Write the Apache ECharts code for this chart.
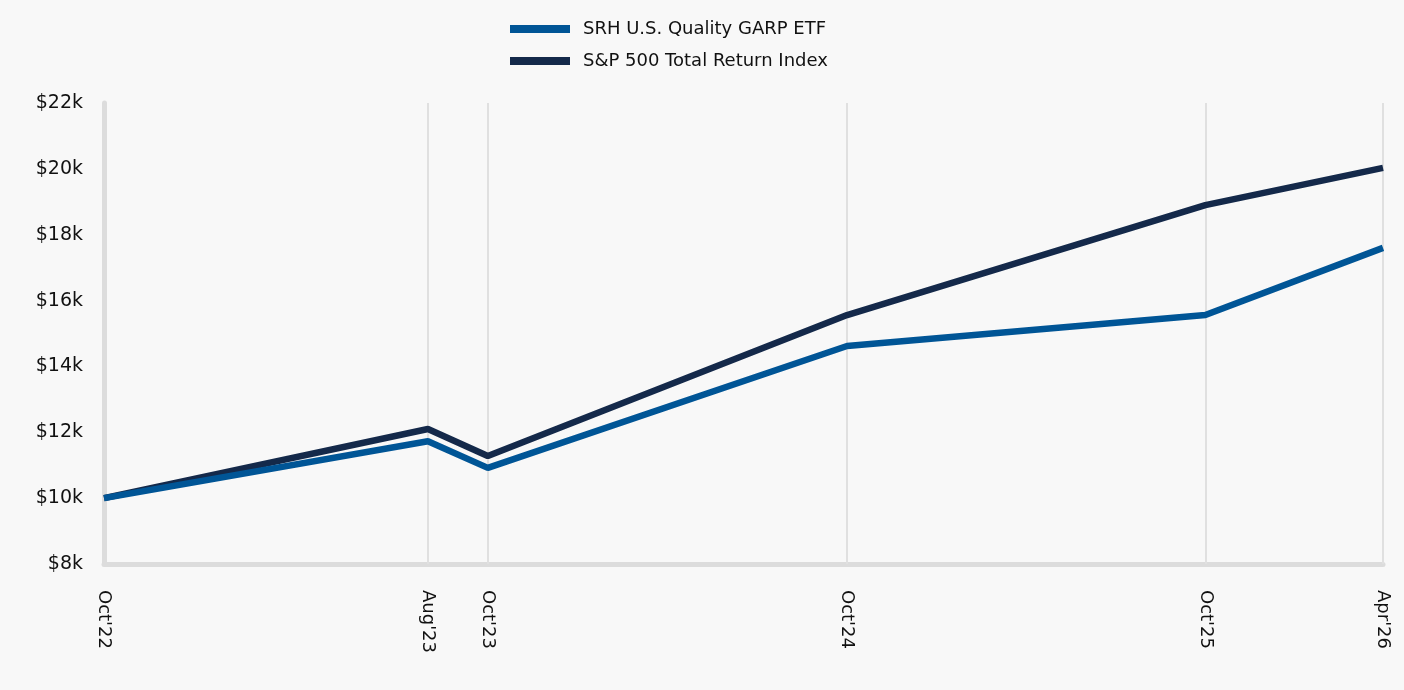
<!DOCTYPE html>
<html>
<head>
<meta charset="utf-8">
<script src="https://cdn.jsdelivr.net/npm/echarts@6/dist/echarts.min.js"></script>
<style>
  html, body { margin: 0; padding: 0; background: #f8f8f8; }
  #chart { width: 1404px; height: 690px; }
</style>
</head>
<body>
<div id="chart"></div>
<script>
// dates of the data points and their tick labels
const dates = ['2022-10-05', '2023-08-31', '2023-10-31', '2024-10-31', '2025-10-31', '2026-04-30'];
const tickLabels = ["Oct'22", "Aug'23", "Oct'23", "Oct'24", "Oct'25", "Apr'26"];
// growth of $10k
const srhValues = [10000, 11730, 10920, 14620, 15560, 17600];
const spxValues = [10000, 12100, 11280, 15560, 18900, 20030];

// days since first point, used as x position
const t0 = +new Date(dates[0] + 'T00:00:00Z');
const days = dates.map(d => Math.round((+new Date(d + 'T00:00:00Z') - t0) / 86400000));
const labelByDay = {};
days.forEach((d, i) => { labelByDay[d] = tickLabels[i]; });

const chart = echarts.init(document.getElementById('chart'));
const font = 'DejaVu Sans, sans-serif';

const option = {
  backgroundColor: '#f8f8f8',
  animation: false,
  textStyle: { fontFamily: font },
  legend: {
    orient: 'vertical',
    left: 505,
    top: 15,
    itemWidth: 60,
    itemHeight: 8,
    itemGap: 14,
    icon: 'rect',
    textStyle: { fontSize: 18, color: '#111', fontFamily: font, padding: [0, 0, 0, 8] },
    data: ['SRH U.S. Quality GARP ETF', 'S&P 500 Total Return Index']
  },
  grid: { left: 104, right: 21, top: 103, bottom: 126, containLabel: false },
  xAxis: {
    type: 'value',
    min: 0,
    max: days[days.length - 1],
    axisLine: { show: true, lineStyle: { color: '#dcdcdc', width: 5 } },
    axisTick: { show: false },
    splitLine: { show: false },
    axisLabel: {
      customValues: days,
      rotate: -90,
      margin: 26,
      fontSize: 18,
      color: '#111',
      fontFamily: font,
      formatter: v => labelByDay[v] || ''
    }
  },
  yAxis: {
    type: 'value',
    min: 8000,
    max: 22000,
    interval: 2000,
    axisLine: { show: true, lineStyle: { color: '#dcdcdc', width: 5 } },
    axisTick: { show: false },
    splitLine: { show: false },
    axisLabel: {
      fontSize: 19,
      color: '#111',
      margin: 21,
      fontFamily: font,
      formatter: v => '$' + (v / 1000) + 'k'
    }
  },
  series: [
    {
      name: 'SRH U.S. Quality GARP ETF',
      type: 'line',
      data: days.map((d, i) => [d, srhValues[i]]),
      color: '#005596',
      lineStyle: { width: 6.5, color: '#005596' },
      showSymbol: false,
      symbol: 'none',
      z: 4,
      markLine: {
        silent: true,
        symbol: 'none',
        label: { show: false },
        lineStyle: { color: '#e0e0e0', width: 2, type: 'solid' },
        data: days.slice(1).map(d => ({ xAxis: d })),
        z: 1
      }
    },
    {
      name: 'S&P 500 Total Return Index',
      type: 'line',
      data: days.map((d, i) => [d, spxValues[i]]),
      color: '#14294a',
      lineStyle: { width: 6.5, color: '#14294a' },
      showSymbol: false,
      symbol: 'none',
      z: 3
    }
  ]
};
chart.setOption(option);
</script>
</body>
</html>
